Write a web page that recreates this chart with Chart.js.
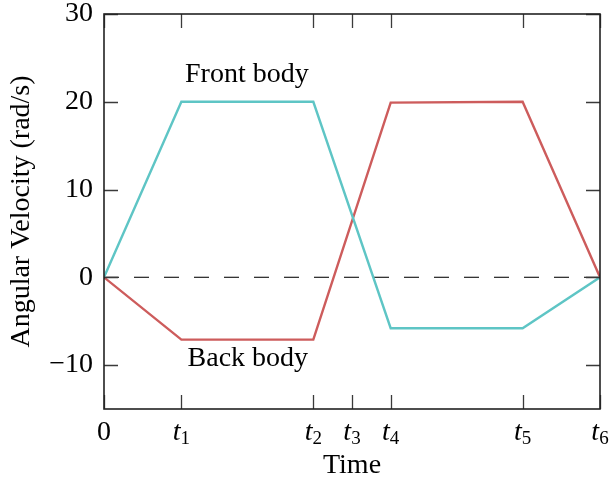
<!DOCTYPE html>
<html>
<head>
<meta charset="utf-8">
<script src="https://cdn.jsdelivr.net/npm/chart.js@4/dist/chart.umd.min.js"></script>
<style>
  html, body { margin: 0; padding: 0; background: #fff; }
  #wrap { width: 609px; height: 483px; }
</style>
</head>
<body>
<div id="wrap"><canvas id="grafico" width="609" height="483"></canvas></div>
<script>
// datos
const tiempos = [0, 0.78, 2.11, 2.89, 4.22, 5];
const velFrente = [0, 20, 20, -5.8, -5.8, 0];
const velAtras = [0, -7.1, -7.1, 19.9, 20, 0];
const ticksX = [0, 0.78, 2.11, 2.5, 2.89, 4.22, 5];
const etiquetasX = ['0', 't1', 't2', 't3', 't4', 't5', 't6'];
const ticksY = [-10, 0, 10, 20, 30];
const lineaCero = [0, 0];
const extremosX = [0, 5];

// textos sobre las curvas (coordenadas de datos)
const notas = [
  { texto: 'Front body', x: 1.44, y: 22.2 },
  { texto: 'Back body', x: 1.45, y: -10.1 }
];

const fuente = '"Liberation Serif", "DejaVu Serif", serif';
const tam = 28;
Chart.defaults.font.family = fuente;
Chart.defaults.color = '#000';

function puntos(xs, ys) {
  return xs.map(function (x, i) { return { x: x, y: ys[i] }; });
}

const marco = {
  id: 'marco',
  afterDraw: function (chart) {
    const ctx = chart.ctx;
    const a = chart.chartArea;
    const sx = chart.scales.x;
    const sy = chart.scales.y;
    const largo = 14;
    ctx.save();
    // marcas hacia adentro
    ctx.strokeStyle = '#3a3a3a';
    ctx.lineWidth = 1.3;
    ctx.beginPath();
    ticksX.forEach(function (v) {
      const px = Math.round(sx.getPixelForValue(v)) + 0.5;
      ctx.moveTo(px, a.bottom); ctx.lineTo(px, a.bottom - largo);
      ctx.moveTo(px, a.top); ctx.lineTo(px, a.top + largo);
    });
    ticksY.forEach(function (v) {
      const py = Math.round(sy.getPixelForValue(v)) + 0.5;
      ctx.moveTo(a.left, py); ctx.lineTo(a.left + largo, py);
      ctx.moveTo(a.right, py); ctx.lineTo(a.right - largo, py);
    });
    ctx.stroke();
    // caja
    ctx.strokeStyle = '#222';
    ctx.lineWidth = 1.6;
    ctx.strokeRect(a.left, a.top, a.right - a.left, a.bottom - a.top);

    // etiquetas del eje x con subindice
    ctx.fillStyle = '#000';
    ctx.textBaseline = 'alphabetic';
    ticksX.forEach(function (v, i) {
      const px = sx.getPixelForValue(v);
      const lab = etiquetasX[i];
      const base = 440;
      if (lab.length === 1) {
        ctx.font = tam + 'px ' + fuente;
        ctx.textAlign = 'center';
        ctx.fillText(lab, px, base);
      } else {
        ctx.font = 'italic ' + tam + 'px ' + fuente;
        const w1 = ctx.measureText(lab[0]).width;
        ctx.font = '19px ' + fuente;
        const w2 = ctx.measureText(lab[1]).width;
        const x0 = px - (w1 + w2) / 2;
        ctx.textAlign = 'left';
        ctx.font = 'italic ' + tam + 'px ' + fuente;
        ctx.fillText(lab[0], x0, base);
        ctx.font = '19px ' + fuente;
        ctx.fillText(lab[1], x0 + w1, base + 4);
      }
    });

    // titulos de ejes
    ctx.font = tam + 'px ' + fuente;
    ctx.textAlign = 'center';
    ctx.fillText('Time', (a.left + a.right) / 2, 473);
    ctx.save();
    ctx.translate(29, (a.top + a.bottom) / 2);
    ctx.rotate(-Math.PI / 2);
    ctx.fillText('Angular Velocity (rad/s)', 0, 0);
    ctx.restore();

    // notas
    notas.forEach(function (n) {
      ctx.fillText(n.texto, sx.getPixelForValue(n.x), sy.getPixelForValue(n.y));
    });
    ctx.restore();
  }
};

const config = {
  type: 'scatter',
  data: {
    datasets: [{
      label: 'Front body',
      data: puntos(tiempos, velFrente),
      showLine: true,
      borderColor: '#5ec5c5',
      borderWidth: 2.4,
      pointRadius: 0,
      order: 1
    },
    {
      label: 'Back body',
      data: puntos(tiempos, velAtras),
      showLine: true,
      borderColor: '#cd5c5c',
      borderWidth: 2.4,
      pointRadius: 0,
      order: 1
    },
    {
      label: 'cero',
      data: puntos(extremosX, lineaCero),
      showLine: true,
      borderColor: '#333',
      borderWidth: 1.3,
      borderDash: [15, 15],
      pointRadius: 0,
      order: 2
    }]
  },
  options: {
    responsive: false,
    animation: false,
    layout: { padding: { left: 0, top: 14, right: 9, bottom: 0 } },
    plugins: { legend: { display: false }, tooltip: { enabled: false } },
    scales: {
      x: {
        type: 'linear',
        min: 0,
        max: 5,
        grid: { display: false },
        border: { display: false },
        ticks: { display: false },
        afterBuildTicks: function (s) { s.ticks = ticksX.map(function (v) { return { value: v }; }); },
        afterFit: function (s) { s.height = 74; s.paddingLeft = 0; s.paddingRight = 0; }
      },
      y: {
        min: -15,
        max: 30,
        grid: { display: false, drawTicks: false },
        border: { display: false },
        ticks: {
          padding: 11,
          font: { size: tam },
          callback: function (v) { return v < 0 ? '\u2212' + Math.abs(v) : String(v); }
        },
        afterBuildTicks: function (s) { s.ticks = ticksY.map(function (v) { return { value: v }; }); },
        afterFit: function (s) { s.width = 104; s.paddingTop = 0; s.paddingBottom = 0; }
      }
    }
  },
  plugins: [marco]
};

new Chart(document.getElementById('grafico'), config);
</script>
</body>
</html>
